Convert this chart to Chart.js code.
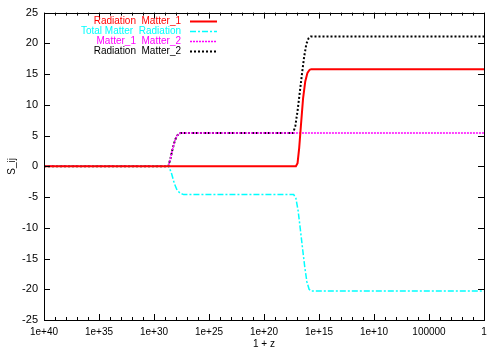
<!DOCTYPE html>
<html>
<head>
<meta charset="utf-8">
<script src="https://cdn.jsdelivr.net/npm/chart.js@4"></script>
<style>
  html, body { margin: 0; padding: 0; background: #fff; }
  #wrap { width: 500px; height: 350px; }
</style>
</head>
<body>
<div id="wrap"><canvas id="sChart" width="500" height="350"></canvas></div>
<script>
// --- DATA (x = log10(1 + z)) ---
const xTicks = [40, 35, 30, 25, 20, 15, 10, 5, 0];
const xTickLabels = ['1e+40', '1e+35', '1e+30', '1e+25', '1e+20', '1e+15', '1e+10', '100000', '1'];

const radMat1X = [40, 17.1, 16.95, 16.8, 16.65, 16.45, 16.25, 16.05, 15.85, 15.7, 0];
const radMat1Y = [0, 0, 0.5, 3, 6.5, 11, 13.8, 15.2, 15.7, 15.8, 15.8];

const totMatRadX = [40, 28.65, 28.4, 28.15, 27.9, 27.6, 27.3, 17.3, 17.1, 16.9, 16.7, 16.5, 16.3, 16.1, 15.9, 15.7, 0];
const totMatRadY = [0, 0, -1.2, -2.8, -3.9, -4.4, -4.6, -4.6, -5.2, -7.2, -10.2, -13.3, -16.3, -18.8, -20.0, -20.3, -20.3];

const mat1Mat2X = [40, 28.7, 28.5, 28.3, 28.1, 27.9, 27.6, 0];
const mat1Mat2Y = [0, 0, 1.3, 2.9, 4.2, 5.0, 5.4, 5.4];

const radMat2X = [40, 28.7, 28.5, 28.3, 28.1, 27.9, 27.6, 17.35, 17.15, 16.95, 16.75, 16.55, 16.35, 16.15, 15.95, 15.75, 0];
const radMat2Y = [0, 0, 1.3, 2.9, 4.2, 5.0, 5.4, 5.4, 6.6, 9.0, 12.0, 15.0, 17.8, 19.9, 20.8, 21.1, 21.1];

const toPoints = (xs, ys) => xs.map((x, i) => ({ x: x, y: ys[i] }));
const FONT = '"Liberation Sans", Arial, sans-serif';

// --- gnuplot-style frame, inward ticks and right-aligned legend ---
const framePlugin = {
    id: 'frame',
    afterDatasetsDraw(chart) {
        const { ctx, chartArea: a, scales } = chart;
        const xs = scales.x, ys = scales.y;
        ctx.save();
        ctx.strokeStyle = '#000';
        ctx.lineWidth = 1;
        ctx.beginPath();
        for (let e = 0; e <= 40; e++) {
            const px = Math.round(xs.getPixelForValue(e)) + 0.5;
            const len = e % 5 === 0 ? 6 : 3;
            ctx.moveTo(px, a.bottom); ctx.lineTo(px, a.bottom - len);
            ctx.moveTo(px, a.top); ctx.lineTo(px, a.top + len);
        }
        for (let v = -25; v <= 25; v += 5) {
            const py = Math.round(ys.getPixelForValue(v)) + 0.5;
            ctx.moveTo(a.left, py); ctx.lineTo(a.left + 6, py);
            ctx.moveTo(a.right, py); ctx.lineTo(a.right - 6, py);
        }
        ctx.stroke();
        ctx.strokeRect(Math.round(a.left) + 0.5, Math.round(a.top) + 0.5,
            Math.round(a.right - a.left), Math.round(a.bottom - a.top));

        // legend
        ctx.font = '10px ' + FONT;
        ctx.textAlign = 'right';
        ctx.textBaseline = 'middle';
        chart.data.datasets.forEach((ds, i) => {
            const y = 21 + i * 10;
            ctx.fillStyle = ds.borderColor;
            ctx.fillText(ds.label, 181, y);
            ctx.strokeStyle = ds.borderColor;
            ctx.lineWidth = ds.borderWidth;
            ctx.setLineDash(ds.borderDash || []);
            ctx.beginPath();
            ctx.moveTo(190, y + 0.5);
            ctx.lineTo(217, y + 0.5);
            ctx.stroke();
        });
        ctx.restore();
    }
};

const ctx = document.getElementById('sChart').getContext('2d');
new Chart(ctx, {
    type: 'line',
    data: {
        datasets: [
            {
                label: 'Radiation  Matter_1',
                data: toPoints(radMat1X, radMat1Y),
                borderColor: '#ff0000',
                borderWidth: 2,
            },
            {
                label: 'Total Matter  Radiation',
                data: toPoints(totMatRadX, totMatRadY),
                borderColor: '#00ffff',
                borderWidth: 1.5,
                borderDash: [6, 2, 2, 2],
            },
            {
                label: 'Matter_1  Matter_2',
                data: toPoints(mat1Mat2X, mat1Mat2Y),
                borderColor: '#ff00ff',
                borderWidth: 1.5,
                borderDash: [2, 1],
            },
            {
                label: 'Radiation  Matter_2',
                data: toPoints(radMat2X, radMat2Y),
                borderColor: '#000000',
                borderWidth: 2,
                borderDash: [2, 2],
            }
        ]
    },
    options: {
        responsive: false,
        animation: false,
        events: [],
        elements: {
            point: { radius: 0 },
            line: { tension: 0, fill: false }
        },
        layout: { padding: { top: 12, right: 16, left: 0, bottom: 0 } },
        plugins: {
            legend: { display: false },
            tooltip: { enabled: false }
        },
        scales: {
            x: {
                type: 'linear',
                reverse: true,
                min: 0,
                max: 40,
                afterFit: (scale) => { scale.height = 30; },
                afterBuildTicks: (scale) => {
                    scale.ticks = xTicks.map(v => ({ value: v }));
                },
                grid: { display: false, drawTicks: false },
                border: { display: false },
                ticks: {
                    padding: 6,
                    maxRotation: 0,
                    autoSkip: false,
                    color: '#000',
                    font: { family: FONT, size: 10 },
                    callback: (value) => xTickLabels[xTicks.indexOf(value)]
                },
                title: {
                    display: true,
                    text: '1 + z',
                    color: '#000',
                    padding: { top: 0, bottom: 0 },
                    font: { family: FONT, size: 10 }
                }
            },
            y: {
                min: -25,
                max: 25,
                afterFit: (scale) => { scale.width = 44; },
                grid: { display: false, drawTicks: false },
                border: { display: false },
                ticks: {
                    stepSize: 5,
                    padding: 6,
                    color: '#000',
                    font: { family: FONT, size: 11 }
                },
                title: {
                    display: true,
                    text: 'S_ij',
                    color: '#000',
                    padding: { top: 6, bottom: 0 },
                    font: { family: FONT, size: 10 }
                }
            }
        }
    },
    plugins: [framePlugin]
});
</script>
</body>
</html>
